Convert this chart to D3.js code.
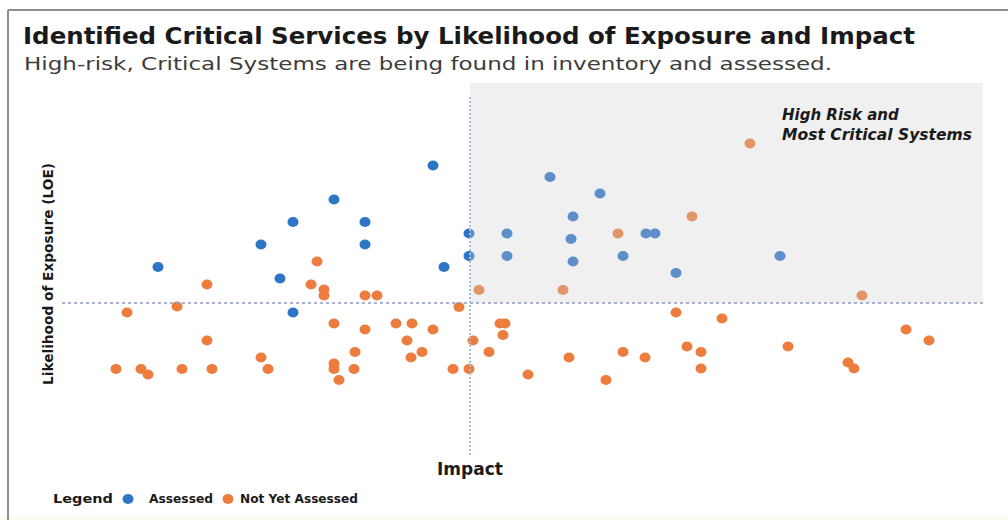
<!DOCTYPE html>
<html>
<head>
<meta charset="utf-8">
<script src="https://cdn.jsdelivr.net/npm/d3@7"></script>
<style>
  html, body { margin: 0; padding: 0; background: #fff; }
  #svg-container { width: 1008px; height: 520px; }
  text { font-family: "DejaVu Sans", sans-serif; }
</style>
</head>
<body>
<div id="svg-container"></div>
<script>
////////////////////////////////////////////////////////////////////
////////////////////////////  Data  ////////////////////////////////
// impact (x) and likelihood of exposure (y), both on a 0-100 scale, 50 = quadrant line
const assessedImpact = [46.3, 36.4, 32.3, 39.5, 29.1, 39.5, 49.9, 49.9, 18.8, 47.4, 31.0, 32.3,
  58.0, 63.0, 60.3, 53.7, 60.1, 67.6, 68.5, 53.7, 60.3, 65.3, 70.6, 81.0];
const assessedLoe = [77.5, 70.7, 66.2, 66.2, 61.7, 61.7, 63.9, 59.4, 57.2, 57.2, 54.9, 48.1,
  75.2, 71.9, 67.3, 63.9, 62.8, 63.9, 63.9, 59.4, 58.3, 59.4, 56.0, 59.4];

const notAssessedImpact = [34.7, 23.7, 34.1, 35.4, 35.4, 39.5, 40.7, 20.7, 15.7, 48.9, 50.9, 59.3,
  78.0, 72.2, 64.8, 89.2, 36.4, 39.5, 42.6, 44.2, 46.3, 43.7, 23.7, 50.3, 38.5, 45.2, 44.1, 29.1,
  36.4, 36.4, 14.6, 17.1, 17.8, 21.2, 24.2, 29.8, 38.4, 36.9, 48.3, 49.9, 70.6, 75.2, 53.0, 53.5,
  53.3, 51.9, 65.3, 59.9, 67.5, 71.7, 73.1, 81.8, 55.8, 63.6, 73.1, 93.6, 95.9, 87.8, 88.4];
const notAssessedLoe = [58.3, 53.7, 53.7, 52.7, 51.5, 51.5, 51.5, 49.3, 48.1, 49.2, 52.6, 52.6,
  81.9, 67.3, 63.9, 51.5, 45.9, 44.7, 45.9, 45.9, 44.7, 42.5, 42.5, 42.5, 40.2, 40.2, 39.1, 39.1,
  37.9, 36.8, 36.8, 36.8, 35.7, 36.8, 36.8, 36.8, 36.8, 34.6, 36.8, 36.8, 48.1, 46.9, 45.9, 45.9,
  43.6, 40.2, 40.2, 39.1, 39.1, 41.3, 40.2, 41.3, 35.7, 34.6, 36.9, 44.7, 42.5, 38.1, 36.9];

const threshold = 50;
const seriesNames = ["Assessed", "Not Yet Assessed"];
const seriesColors = ["#2e75c6", "#ec7d3f"];

const titleText = "Identified Critical Services by Likelihood of Exposure and Impact";
const subtitleText = "High-risk, Critical Systems are being found in inventory and assessed.";

////////////////////////////////////////////////////////////////////
////////////////////////////  Init  ////////////////////////////////
const svg = d3.select("#svg-container").append("svg")
  .attr("width", 1008).attr("height", 520);

const xScale = d3.scaleLinear().domain([0, 100]).range([-30, 970]);
const yScale = d3.scaleLinear().domain([0, 100]).range([553, 53]);

const points = [
  ...assessedImpact.map((d, i) => ({ x: d, y: assessedLoe[i], s: 0 })),
  ...notAssessedImpact.map((d, i) => ({ x: d, y: notAssessedLoe[i], s: 1 }))
];

// frame
svg.append("rect").attr("x", 0).attr("y", 515).attr("width", 1008).attr("height", 5)
  .attr("fill", "#fdfcf3");
svg.append("line").attr("x1", 8).attr("x2", 1008).attr("y1", 10).attr("y2", 10)
  .attr("stroke", "#8f8f8f").attr("stroke-width", 2);
svg.append("line").attr("x1", 8).attr("x2", 8).attr("y1", 10).attr("y2", 520)
  .attr("stroke", "#8f8f8f").attr("stroke-width", 2);

// titles
svg.append("text").attr("x", 23).attr("y", 44)
  .attr("font-size", 23).attr("font-weight", "bold").attr("fill", "#1a1a1a")
  .attr("textLength", 892).attr("lengthAdjust", "spacingAndGlyphs")
  .text(titleText);
svg.append("text").attr("x", 24).attr("y", 70)
  .attr("font-size", 18).attr("fill", "#3c3c3c")
  .attr("textLength", 808).attr("lengthAdjust", "spacingAndGlyphs")
  .text(subtitleText);

const quad = { x0: xScale(threshold), x1: xScale(101.3), y0: yScale(94), y1: yScale(threshold) };

////////////////////////////////////////////////////////////////////
////////////////////////////  Marks  ///////////////////////////////
svg.selectAll(".dot")
  .data(points)
  .enter()
  .append("ellipse")
  .attr("class", "dot")
  .attr("cx", (d) => xScale(d.x))
  .attr("cy", (d) => yScale(d.y))
  .attr("rx", 5.5)
  .attr("ry", 5)
  .attr("fill", (d) => seriesColors[d.s]);

// high risk quadrant, laid over the points so they look washed out
svg.append("rect")
  .attr("x", quad.x0).attr("y", quad.y0)
  .attr("width", quad.x1 - quad.x0).attr("height", quad.y1 - quad.y0)
  .attr("fill", "#cccccc").attr("opacity", 0.3);

// quadrant lines
svg.append("line")
  .attr("x1", xScale(9.2)).attr("x2", xScale(101.5))
  .attr("y1", yScale(threshold)).attr("y2", yScale(threshold))
  .attr("stroke", "#8d99c4").attr("stroke-width", 1.5).attr("stroke-dasharray", "3,3");
svg.append("line")
  .attr("x1", xScale(threshold)).attr("x2", xScale(threshold))
  .attr("y1", yScale(91.2)).attr("y2", yScale(19.2))
  .attr("stroke", "#9cc3e6").attr("stroke-width", 2).attr("stroke-dasharray", "2,2");

svg.append("text").attr("x", 782).attr("y", 120)
  .attr("font-size", 15).attr("font-weight", "bold").attr("font-style", "italic")
  .attr("fill", "#1a1a1a").text("High Risk and");
svg.append("text").attr("x", 782).attr("y", 140)
  .attr("font-size", 15).attr("font-weight", "bold").attr("font-style", "italic")
  .attr("fill", "#1a1a1a").attr("textLength", 190).attr("lengthAdjust", "spacingAndGlyphs")
  .text("Most Critical Systems");

// axis titles
svg.append("text").attr("x", xScale(threshold)).attr("y", 475)
  .attr("text-anchor", "middle").attr("font-size", 17).attr("font-weight", "bold")
  .attr("fill", "#1a1a1a").text("Impact");
svg.append("text")
  .attr("transform", `translate(53,${274}) rotate(-90)`)
  .attr("text-anchor", "middle").attr("font-size", 14).attr("font-weight", "bold")
  .attr("fill", "#1a1a1a").attr("textLength", 222).attr("lengthAdjust", "spacingAndGlyphs")
  .text("Likelihood of Exposure (LOE)");

////////////////////////////////////////////////////////////////////
////////////////////////////  Legend  //////////////////////////////
svg.append("text").attr("x", 53).attr("y", 503)
  .attr("font-size", 13).attr("font-weight", "bold").attr("fill", "#1a1a1a")
  .attr("textLength", 60).attr("lengthAdjust", "spacingAndGlyphs")
  .text("Legend");

const legendX = [128, 228];
const legendTextX = [149, 240];
const legendTextW = [64, 118];
const legend = svg.selectAll(".legend")
  .data(seriesNames)
  .enter()
  .append("g")
  .attr("class", "legend");
legend.append("ellipse")
  .attr("cx", (d, i) => legendX[i]).attr("cy", 499)
  .attr("rx", 5.5).attr("ry", 5)
  .attr("fill", (d, i) => seriesColors[i]);
legend.append("text")
  .attr("x", (d, i) => legendTextX[i]).attr("y", 503)
  .attr("font-size", 11.5).attr("font-weight", "bold").attr("fill", "#1a1a1a")
  .attr("textLength", (d, i) => legendTextW[i]).attr("lengthAdjust", "spacingAndGlyphs")
  .text((d) => d);
</script>
</body>
</html>
